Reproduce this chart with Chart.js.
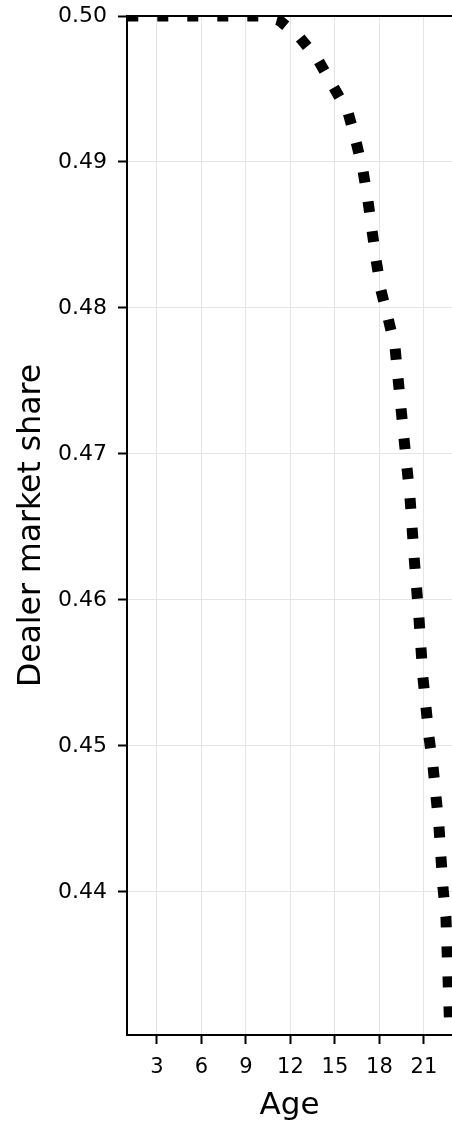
<!DOCTYPE html>
<html>
<head>
<meta charset="utf-8">
<script src="https://cdn.jsdelivr.net/npm/chart.js@4/dist/chart.umd.min.js"></script>
<style>
  html, body { margin: 0; padding: 0; background: #fff; }
  canvas { display: block; }
</style>
</head>
<body>
<canvas id="chart" width="452" height="1121"></canvas>
<script>
// valores
const ages = [1, 10.2, 11.25, 12.65, 13.86, 14.87, 15.88, 16.42, 16.89, 17.23, 17.77, 18.10, 18.58, 19.05,
    19.25, 19.65, 20.06, 20.33, 20.66, 20.93, 21.13, 21.34, 21.61, 22.01, 22.28, 22.48, 22.62, 22.75, 22.85];
const shares = [0.5, 0.5, 0.4997, 0.4985, 0.4970, 0.4952, 0.4934, 0.4914, 0.4894, 0.4873, 0.4833, 0.4812, 0.4793, 0.4773,
    0.4752, 0.4711, 0.4670, 0.4630, 0.4588, 0.4547, 0.4527, 0.4506, 0.4486, 0.4445, 0.4403, 0.4383, 0.4342, 0.4302, 0.4280];
const xTicks = [3, 6, 9, 12, 15, 18, 21];
const yTicks = [0.44, 0.45, 0.46, 0.47, 0.48, 0.49, 0.50];

const FONT = 'DejaVu Sans';

// linha superior do quadro (spine)
const topSpine = {
    id: 'topSpine',
    afterDatasetsDraw(chart) {
        const { ctx, chartArea } = chart;
        ctx.save();
        ctx.strokeStyle = '#000';
        ctx.lineWidth = 2;
        ctx.beginPath();
        ctx.moveTo(chartArea.left - 1, chartArea.top);
        ctx.lineTo(chartArea.right, chartArea.top);
        ctx.stroke();
        ctx.restore();
    }
};

new Chart(document.getElementById('chart'), {
    type: 'line',
    data: {
        datasets: [{
            data: ages.map((a, i) => ({ x: a, y: shares[i] })),
            borderColor: '#000',
            borderWidth: 11,
            borderDash: [11, 19],
            borderCapStyle: 'butt',
            pointRadius: 0,
            tension: 0,
            fill: false,
            clip: 0
        }]
    },
    options: {
        responsive: false,
        animation: false,
        devicePixelRatio: 1,
        layout: { padding: { top: 16, right: 0, bottom: 0, left: 0 } },
        plugins: { legend: { display: false }, tooltip: { enabled: false } },
        scales: {
            x: {
                type: 'linear',
                min: 0.98,
                max: 22.89,
                afterFit: s => { s.height = 86; s.paddingLeft = 0; s.paddingRight = 0; },
                afterBuildTicks: s => { s.ticks = xTicks.map(v => ({ value: v })); },
                ticks: {
                    color: '#000',
                    font: { family: FONT, size: 21 },
                    padding: 11,
                    maxRotation: 0,
                    autoSkip: false,
                    callback: v => String(v)
                },
                grid: {
                    color: '#e4e4e4',
                    lineWidth: 1,
                    tickColor: '#000',
                    tickWidth: 2,
                    tickLength: 9
                },
                border: { color: '#000', width: 2 },
                title: {
                    display: true,
                    text: 'Age',
                    color: '#000',
                    font: { family: FONT, size: 31, lineHeight: 0.94 },
                    padding: { top: 0, bottom: 0 }
                }
            },
            y: {
                type: 'linear',
                min: 0.4302,
                max: 0.50,
                afterFit: s => { s.width = 127; s.paddingTop = 0; s.paddingBottom = 0; },
                afterBuildTicks: s => { s.ticks = yTicks.map(v => ({ value: v })); },
                ticks: {
                    color: '#000',
                    font: { family: FONT, size: 22 },
                    padding: 11,
                    autoSkip: false,
                    callback: v => v.toFixed(2)
                },
                grid: {
                    color: '#e4e4e4',
                    lineWidth: 1,
                    tickColor: '#000',
                    tickWidth: 2,
                    tickLength: 9
                },
                border: { color: '#000', width: 2 },
                title: {
                    display: true,
                    text: 'Dealer market share',
                    color: '#000',
                    font: { family: FONT, size: 31.5 },
                    padding: { top: 13, bottom: 0 }
                }
            }
        }
    },
    plugins: [topSpine]
});
</script>
</body>
</html>
